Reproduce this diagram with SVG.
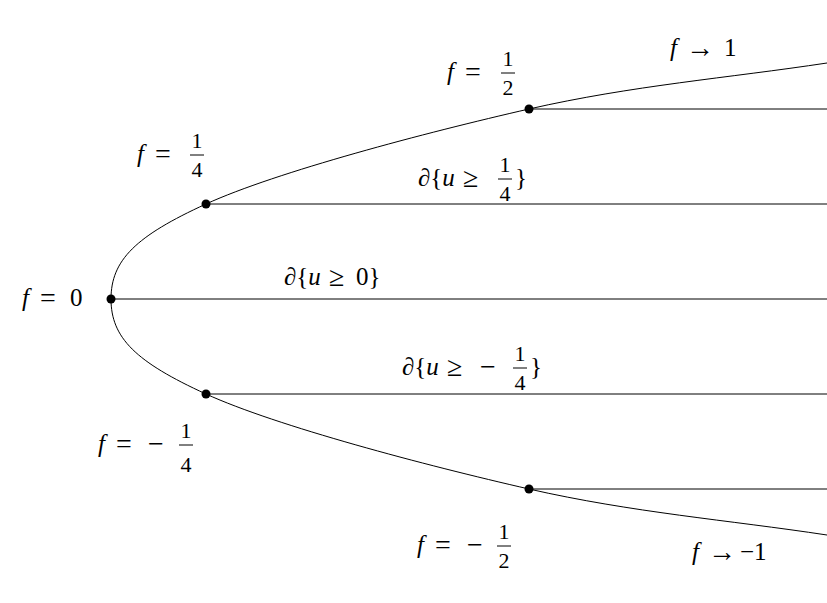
<svg xmlns="http://www.w3.org/2000/svg" width="827" height="603" viewBox="0 0 827 603">
<style>
text{font-family:"Liberation Serif","Times New Roman",serif;font-size:25px;fill:#000}
.i{font-style:italic}
.s{font-size:28px}
.n{font-size:22px;text-anchor:middle}
.c{fill:none;stroke:#000;stroke-width:1}
.bar{stroke:#000;stroke-width:1}
</style>
<rect width="827" height="603" fill="#fff"/>
<g id="connectors">
<path class="c" d="M827,63 C728,78 632,85.5 529,109 C426,132.5 276,172 206,204 C136,236 111,260 111,299 C111,338 136,362 206,394 C276,426 426,465.5 529,489 C632,512.5 728,520 827,535"/>
<line class="c" x1="529" y1="109" x2="827" y2="109"/>
<line class="c" x1="206" y1="204" x2="827" y2="204"/>
<line class="c" x1="111" y1="299" x2="827" y2="299"/>
<line class="c" x1="206" y1="394" x2="827" y2="394"/>
<line class="c" x1="529" y1="489" x2="827" y2="489"/>
</g>
<g id="points">
<circle cx="111" cy="299" r="4.5"/><circle cx="206" cy="204" r="4.5"/><circle cx="206" cy="394" r="4.5"/><circle cx="529" cy="109" r="4.5"/><circle cx="529" cy="489" r="4.5"/>
</g>
<g id="label-half">
<text x="447" y="80" class="i">f</text><text x="465" y="81" class="s">=</text>
<text class="n" x="508" y="66">1</text><line class="bar" x1="501" y1="73" x2="515" y2="73"/><text class="n" x="508" y="95">2</text>
</g>
<g id="label-to1"><text x="670" y="56" class="i">f</text><text x="686" y="57" class="s">→</text><text x="724" y="56">1</text></g>
<g id="label-quarter">
<text x="137" y="162" class="i">f</text><text x="155" y="163" class="s">=</text>
<text class="n" x="197" y="148">1</text><line class="bar" x1="190" y1="155" x2="204" y2="155"/><text class="n" x="197" y="177">4</text>
</g>
<g id="label-uq">
<text x="418" y="186">∂{<tspan class="i">u</tspan></text><text x="463" y="187" class="s">≥</text>
<text class="n" x="505" y="172">1</text><line class="bar" x1="498" y1="179" x2="512" y2="179"/><text class="n" x="505" y="201">4</text>
<text x="515" y="186">}</text>
</g>
<g id="label-zero"><text x="22" y="306" class="i">f</text><text x="40" y="307" class="s">=</text><text x="70" y="306">0</text></g>
<g id="label-u0"><text x="284" y="285">∂{<tspan class="i">u</tspan></text><text x="329" y="286" class="s">≥</text><text x="356" y="285">0}</text></g>
<g id="label-umq">
<text x="402" y="375">∂{<tspan class="i">u</tspan></text><text x="447" y="376" class="s">≥</text><text x="480" y="376" class="s">−</text>
<text class="n" x="520" y="361">1</text><line class="bar" x1="513" y1="368" x2="527" y2="368"/><text class="n" x="520" y="390">4</text>
<text x="530" y="375">}</text>
</g>
<g id="label-mquarter">
<text x="98" y="452" class="i">f</text><text x="116" y="453" class="s">=</text><text x="148" y="453" class="s">−</text>
<text class="n" x="186" y="438">1</text><line class="bar" x1="179" y1="445" x2="193" y2="445"/><text class="n" x="186" y="472">4</text>
</g>
<g id="label-mhalf">
<text x="417" y="553" class="i">f</text><text x="435" y="554" class="s">=</text><text x="467" y="554" class="s">−</text>
<text class="n" x="504" y="539">1</text><line class="bar" x1="497" y1="546" x2="511" y2="546"/><text class="n" x="504" y="568">2</text>
</g>
<g id="label-tom1"><text x="692" y="560" class="i">f</text><text x="708" y="561" class="s">→</text><text x="740" y="560">−1</text></g>
</svg>
